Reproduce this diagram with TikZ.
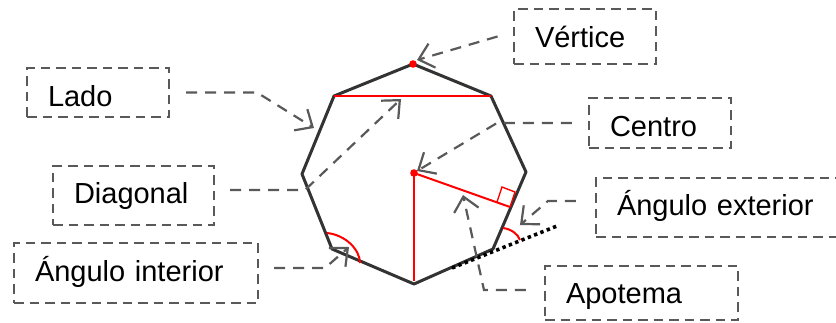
\documentclass[tikz,border=0pt]{standalone}
\usepackage{fontspec}
\setmainfont{Liberation Sans}
\usetikzlibrary{arrows.meta}
\definecolor{dgray}{HTML}{595959}
\definecolor{pen}{HTML}{333333}
\definecolor{redline}{HTML}{FF0000}
\tikzset{
  dbox/.style={draw=dgray,line width=2.2pt,dash pattern=on 9.5pt off 6pt,
    inner xsep=21pt,inner ysep=0pt,align=left,text width=#1,text height=22pt,text depth=7pt,
    font=\fontsize{29}{31}\selectfont,text=black},
  conn/.style={draw=dgray,line width=2.2pt,dash pattern=on 11pt off 8pt,line join=miter,
    -{Straight Barb[length=14pt,width=25pt,line width=2.2pt]}},
  redl/.style={draw=redline,line width=2pt},
  poly/.style={draw=pen,line width=3pt,line join=round},
  dotb/.style={draw=black,line width=3.6pt,dash pattern=on 3.4pt off 3.4pt}
}
\begin{document}
\begin{tikzpicture}[x=1pt,y=-1pt]
\useasboundingbox (0,0) rectangle (836,322);
\begin{scope}
\clip (0,0) rectangle (836,322);
% boxes
\node[dbox=100pt,minimum height=49pt] (lado) at (98,92.5) {\raisebox{-6pt}{Lado}};
\node[dbox=119pt,minimum height=59pt] (diag) at (133.5,195.5) {Diagonal};
\node[dbox=202pt,minimum height=60pt] (aint) at (136,273) {\raisebox{-1pt}{Ángulo interior}};
\node[dbox=100pt,minimum height=55pt] (vert) at (585,36.5) {\raisebox{-3.7pt}{Vértice}};
\node[dbox=100pt,minimum height=50pt] (cent) at (660,123) {\raisebox{-6pt}{Centro}};
\node[dbox=200pt,minimum height=59pt] (aext) at (717,207.5) {Ángulo exterior};
\node[dbox=151pt,minimum height=54pt] (apot) at (641.5,293) {\raisebox{-2.5pt}{Apotema}};
% polygon
\coordinate (vT) at (413,64);
\coordinate (vUR) at (491,96);
\coordinate (vR) at (526,172);
\coordinate (vLR) at (493,249);
\coordinate (vB) at (414,284);
\coordinate (vLL) at (332,249);
\coordinate (vL) at (302,174);
\coordinate (vUL) at (334,96);
\coordinate (cen) at (414,173);
\draw[poly] (vT)--(vUR)--(vR)--(vLR)--(vB)--(vLL)--(vL)--(vUL)--cycle;
% dotted extension
\coordinate (extS) at (452,268);
\coordinate (extE) at (557,226);
\draw[dotb] (extS)--(extE);
% red elements
\draw[redl] (vUL)--(vUR);
\coordinate (vBi) at (414,281);
\coordinate (apF) at (510,207);
\draw[redl] (cen)--(vBi);
\draw[redl] (cen)--(apF);
\draw[redline,line width=1.4pt] (497,202)--(502,187)--(515,192)--(510,207);
\draw[redl] (327,233) .. controls (346,235) and (360,250) .. (360,263);
\draw[redl] (503,228) .. controls (511,229) and (518,234) .. (520,240);
\fill[redline] (vT) circle (3.8pt);
\fill[redline] (cen) circle (3.8pt);
% connectors
\coordinate (tLado) at (314,128);
\coordinate (bLado) at (257,92.5);
\draw[conn,shorten <=16pt] (lado.east)--(bLado)--(tLado);
\coordinate (tDiag) at (401,99);
\coordinate (bDiag) at (305,190);
\draw[conn,shorten <=15pt] ([yshift=5.5pt]diag.east)--(bDiag)--(tDiag);
\coordinate (tVert) at (417,60);
\draw[conn,shorten <=16pt] ([yshift=4.5pt]vert.west)--(tVert);
\coordinate (bCent) at (497,123);
\coordinate (tCent) at (417,171);
\draw[conn,shorten <=16pt] (cent.west)--(bCent)--(tCent);
\coordinate (bExt) at (548,201);
\coordinate (tExt) at (520,225);
\draw[conn,shorten <=19pt] ([yshift=6.5pt]aext.west)--(bExt)--(tExt);
\coordinate (bApo) at (484,290);
\coordinate (tApo) at (463,195);
\draw[conn,shorten <=18pt] ([yshift=3pt]apot.west)--(bApo)--(tApo);
\coordinate (bInt) at (325,268);
\coordinate (tInt) at (349,247);
\draw[conn,shorten <=15pt] ([yshift=5pt]aint.east)--(bInt)--(tInt);
\end{scope}
\end{tikzpicture}
\end{document}
